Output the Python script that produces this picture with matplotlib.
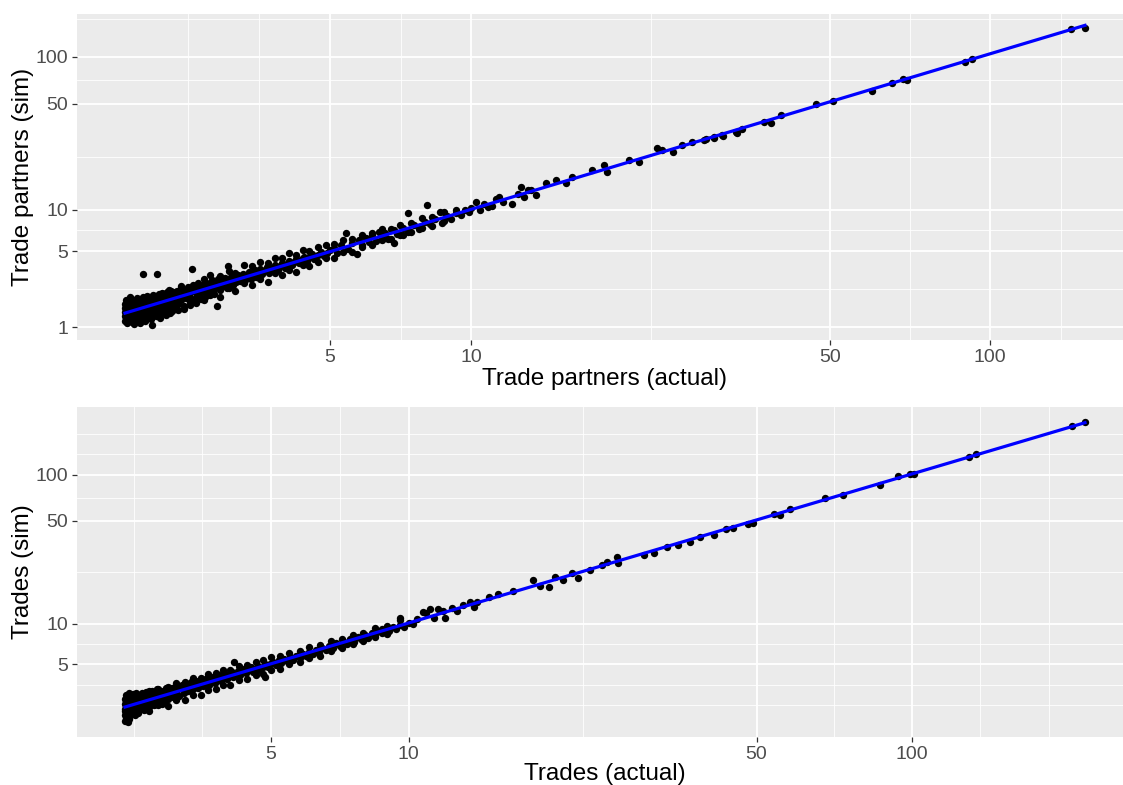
import numpy as np
import matplotlib
matplotlib.use("Agg")
import matplotlib.pyplot as plt

plt.rcParams['font.family'] = ['Liberation Sans', 'DejaVu Sans']

# (actual, simulated) number of trade partners per agent
partners_points = [
    (1.50, 1.20), (1.50, 1.35), (1.50, 1.50), (1.50, 1.65), (1.50, 1.80), (1.51, 1.28), (1.51, 1.95),
    (1.52, 1.12), (1.52, 1.42), (1.52, 1.58), (1.53, 1.72), (1.53, 1.25), (1.54, 1.88), (1.54, 1.48),
    (1.55, 1.33), (1.55, 1.62), (1.56, 2.00), (1.56, 1.18), (1.57, 1.52), (1.57, 1.78), (1.58, 1.40),
    (1.58, 1.66), (1.59, 1.25), (1.59, 1.92), (1.60, 1.55), (1.60, 1.10), (1.61, 1.70), (1.61, 1.38),
    (1.62, 1.85), (1.62, 1.48), (1.63, 1.20), (1.63, 2.05), (1.64, 1.62), (1.64, 1.32), (1.65, 1.76),
    (1.65, 1.50), (1.66, 1.95), (1.66, 1.12), (1.67, 1.42), (1.67, 1.68), (1.68, 1.88), (1.68, 1.28),
    (1.69, 1.58), (1.70, 1.80), (1.70, 1.36), (1.70, 2.10), (1.71, 1.52), (1.72, 1.70), (1.72, 1.18),
    (1.73, 1.95), (1.74, 1.45), (1.75, 1.62), (1.75, 2.15), (1.75, 1.30),
    (1.76, 1.85), (1.77, 1.55), (1.78, 1.40), (1.78, 2.02), (1.79, 1.72), (1.80, 1.25), (1.80, 1.90),
    (1.81, 1.60), (1.82, 2.18), (1.83, 1.48), (1.84, 1.80), (1.85, 1.35), (1.85, 2.05), (1.86, 1.68),
    (1.87, 1.95), (1.88, 1.55), (1.89, 2.25), (1.90, 1.75), (1.90, 1.42), (1.91, 2.00), (1.92, 1.62),
    (1.93, 2.30), (1.94, 1.85), (1.95, 1.50), (1.96, 2.10), (1.97, 1.72), (1.98, 1.95), (1.99, 2.35),
    (2.00, 1.60), (2.00, 1.85), (2.02, 2.15), (2.03, 1.45), (2.04, 2.40), (2.05, 1.78), (2.06, 2.02),
    (2.08, 1.65), (2.09, 2.25), (2.10, 1.90),
    (1.52, 1.90), (1.55, 2.08), (1.58, 1.15), (1.62, 1.98), (1.66, 1.82), (1.70, 1.25), (1.74, 2.05),
    (1.78, 1.30), (1.82, 1.55), (1.86, 2.15), (1.90, 1.30), (1.94, 2.20), (1.98, 1.40), (2.02, 2.45),
    (2.06, 1.52), (2.10, 2.35), (2.14, 1.55), (2.18, 2.65), (2.22, 1.60), (2.26, 2.35), (2.30, 1.75),
    (2.34, 2.50), (2.38, 1.85), (2.42, 2.55), (2.46, 2.00), (2.50, 2.75), (2.55, 2.20), (2.60, 2.80),
    (2.65, 2.35),
    (1.70, 3.31), (1.87, 3.30), (2.33, 3.63), (2.88, 3.84), (2.70, 1.71), (1.81, 1.06),
    (2.12, 2.40), (2.14, 1.80), (2.15, 2.10), (2.17, 2.55), (2.18, 1.95), (2.20, 2.25), (2.22, 1.70),
    (2.24, 2.45), (2.25, 2.05), (2.27, 2.60), (2.29, 2.15), (2.30, 1.90), (2.32, 2.35), (2.34, 2.70),
    (2.36, 2.00), (2.38, 2.50), (2.40, 2.20), (2.42, 2.80), (2.44, 2.30), (2.46, 2.05), (2.48, 2.60),
    (2.50, 2.40), (2.52, 2.85), (2.54, 2.15), (2.56, 2.55), (2.58, 2.70), (2.60, 2.35), (2.62, 2.95),
    (2.64, 2.50), (2.66, 2.25), (2.68, 2.75), (2.70, 2.60), (2.72, 3.00), (2.75, 2.45), (2.78, 2.85),
    (2.80, 2.65), (2.83, 3.10), (2.86, 2.55), (2.88, 2.90), (2.90, 2.75), (2.93, 3.15), (2.96, 2.70),
    (2.98, 3.00),
    (2.50, 1.98), (2.50, 3.03), (2.60, 2.17), (2.60, 3.25), (2.75, 2.11), (2.75, 3.20), (2.90, 2.51),
    (2.90, 3.52), (3.00, 2.36), (3.00, 3.40), (3.15, 2.82), (3.15, 3.90), (3.30, 2.70), (3.30, 3.82),
    (3.45, 3.00), (3.45, 4.16), (3.60, 2.86), (3.60, 4.06), (3.75, 3.37), (3.75, 4.46), (3.90, 3.26),
    (3.90, 4.49), (4.05, 3.60), (4.05, 4.86), (4.20, 3.47), (4.20, 4.72), (4.35, 3.92), (4.35, 5.10),
    (4.50, 3.84), (4.50, 5.05), (4.70, 4.13), (4.70, 5.44), (4.90, 4.43), (4.90, 5.61), (5.10, 4.49),
    (5.10, 5.71), (5.35, 4.91), (5.35, 6.11), (5.60, 4.94), (5.60, 6.19), (5.90, 5.42), (5.90, 6.59),
    (6.20, 5.55), (6.20, 6.78), (6.50, 6.05), (6.50, 7.25), (6.80, 6.18), (6.80, 7.35), (7.10, 6.61),
    (7.10, 7.83), (7.50, 6.91), (7.50, 8.10), (7.90, 7.46), (7.90, 8.70), (8.30, 7.65), (8.30, 8.86),
    (8.80, 8.31), (8.80, 9.58),
    (3.02, 2.85), (3.05, 3.25), (3.08, 2.90), (3.10, 3.10), (3.14, 3.35), (3.17, 2.95), (3.20, 3.20),
    (3.24, 3.45), (3.28, 3.05), (3.31, 3.30), (3.35, 3.55), (3.38, 3.15), (3.42, 3.40), (3.46, 3.65),
    (3.50, 3.30), (3.54, 3.55), (3.58, 3.80), (3.62, 3.40), (3.66, 3.70), (3.70, 3.55), (3.75, 3.90),
    (3.80, 3.60), (3.85, 3.85), (3.90, 4.05), (3.95, 3.75), (4.00, 4.00), (4.05, 4.20), (4.10, 3.90),
    (4.15, 4.15), (4.20, 4.40), (4.26, 4.05), (4.32, 4.35), (4.38, 4.55), (4.44, 4.25), (4.50, 4.50),
    (4.56, 4.75), (4.62, 4.40), (4.70, 4.70), (4.78, 4.95), (4.85, 4.60), (4.92, 4.90), (5.00, 5.10),
    (5.1, 5.3), (5.2, 4.9), (5.3, 5.6), (5.44, 6.8), (5.5, 5.2), (5.6, 5.8), (5.73, 4.75), (5.8, 6.1),
    (5.9, 5.6), (6.0, 6.3), (6.1, 5.9), (6.2, 6.6), (6.3, 6.0), (6.4, 6.9), (6.5, 6.3), (6.6, 6.8),
    (6.7, 6.2), (6.9, 5.75), (6.9, 7.2), (7.0, 6.7), (7.2, 7.4), (7.2, 6.6), (7.4, 9.4), (7.4, 7.0),
    (7.6, 7.8), (7.8, 7.3), (8.0, 8.2), (8.1, 10.7), (8.2, 7.9), (8.4, 8.6), (8.6, 9.6), (8.7, 8.1),
    (8.9, 9.0), (9.1, 8.6), (9.3, 9.9), (9.3, 9.5), (9.5, 9.1), (9.7, 9.9), (9.9, 9.6), (10.0, 10.3),
    (10.2, 11.2), (10.4, 10.0), (10.6, 11.0), (10.8, 10.4), (11.0, 10.6), (11.2, 11.8), (11.4, 12.2),
    (11.6, 11.2), (12.1, 10.9), (12.4, 12.8), (12.6, 14.2), (12.8, 12.2), (13.0, 13.6), (13.2, 13.6),
    (13.5, 12.5), (14.1, 15.1), (14.8, 15.8), (15.5, 15.1), (15.9, 16.6), (17.4, 18.4), (18.4, 19.9),
    (18.6, 17.9), (20.6, 21.4), (21.5, 20.8), (23.3, 25.7), (23.9, 24.9), (25.0, 24.2), (26.1, 26.9),
    (27.3, 28.2), (28.7, 29.0), (29.0, 29.4), (30.0, 30.3), (30.0, 29.9), (31.1, 31.3), (31.2, 30.8),
    (33.1, 32.6), (33.3, 32.2), (34.0, 34.2), (37.5, 37.9), (38.6, 37.4), (40.3, 42.1), (47.0, 49.5),
    (50.6, 51.8), (60.0, 60.0), (65.4, 67.4), (68.6, 71.6), (69.8, 70.5), (89.8, 91.9), (92.5, 96.0),
    (142.0, 148.6), (150.7, 151.0),
]

# (actual, simulated) number of trades per agent
trades_points = [
    (2.15, 1.60), (2.15, 1.85), (2.15, 2.10), (2.15, 2.35), (2.15, 2.60), (2.16, 2.80), (2.16, 1.72),
    (2.17, 2.22), (2.17, 2.48), (2.18, 1.95), (2.18, 2.70), (2.19, 1.55), (2.19, 2.05), (2.20, 2.38),
    (2.20, 2.90), (2.21, 1.80), (2.22, 2.55), (2.22, 2.15), (2.23, 2.75), (2.24, 1.92), (2.25, 2.30),
    (2.25, 2.62), (2.26, 2.02), (2.27, 2.85), (2.28, 2.45), (2.29, 1.85), (2.30, 2.20), (2.30, 2.70),
    (2.31, 2.95), (2.32, 2.10), (2.33, 2.52), (2.34, 1.98), (2.35, 2.80), (2.36, 2.35), (2.37, 2.62),
    (2.38, 2.15), (2.39, 2.92), (2.40, 2.45),
    (2.15, 2.00), (2.16, 2.45), (2.18, 2.25), (2.20, 1.65), (2.21, 2.65), (2.23, 2.00), (2.26, 2.50),
    (2.28, 2.12), (2.31, 2.40), (2.33, 1.90), (2.36, 2.70), (2.39, 2.25), (2.44, 2.50), (2.49, 2.90),
    (2.54, 2.35), (2.59, 2.75), (2.64, 2.95), (2.70, 2.35), (2.76, 2.70), (2.82, 2.95), (2.88, 3.05),
    (2.94, 2.60),
    (2.42, 2.05), (2.43, 2.75), (2.45, 2.30), (2.46, 3.00), (2.48, 2.55), (2.50, 2.20), (2.51, 2.85),
    (2.53, 2.45), (2.55, 3.05), (2.56, 2.65), (2.58, 2.30), (2.60, 2.90), (2.62, 2.55), (2.63, 3.15),
    (2.65, 2.40), (2.67, 2.75), (2.69, 3.05), (2.71, 2.60), (2.73, 2.95), (2.75, 2.45), (2.77, 3.20),
    (2.79, 2.80), (2.81, 2.60), (2.83, 3.10), (2.85, 2.90), (2.87, 3.25), (2.89, 2.70), (2.91, 3.00),
    (2.93, 3.30), (2.95, 2.85), (2.97, 3.10), (2.99, 2.75),
    (2.50, 2.01), (2.50, 3.06), (2.65, 2.29), (2.65, 3.16), (2.80, 2.23), (2.80, 3.26), (2.95, 2.56),
    (2.95, 3.58), (3.10, 2.53), (3.10, 3.59), (3.25, 2.83), (3.25, 3.89), (3.40, 2.83), (3.40, 3.93),
    (3.55, 3.10), (3.55, 4.19), (3.70, 3.14), (3.70, 4.26), (3.85, 3.41), (3.85, 4.53), (4.00, 3.40),
    (4.00, 4.55), (4.20, 3.73), (4.20, 4.88), (4.40, 3.81), (4.40, 4.94), (4.60, 4.15), (4.60, 5.27),
    (4.80, 4.22), (4.80, 5.38), (5.00, 4.52), (5.00, 5.66), (5.25, 4.63), (5.25, 5.81), (5.50, 5.05),
    (5.50, 6.15), (5.80, 5.19), (5.80, 6.34), (6.10, 5.60), (6.10, 6.74), (6.45, 5.85), (6.45, 6.97),
    (6.80, 6.33), (6.80, 7.50), (7.20, 6.63), (7.20, 7.77), (7.60, 7.17), (7.60, 8.29), (8.00, 7.46),
    (8.00, 8.54), (8.50, 8.03), (8.50, 9.26), (9.00, 8.40), (9.00, 9.60),
    (3.02, 3.20), (3.05, 3.40), (3.08, 2.90), (3.10, 3.15), (3.13, 3.50), (3.16, 3.05), (3.19, 3.30),
    (3.22, 3.60), (3.25, 3.15), (3.28, 3.40), (3.31, 3.70), (3.34, 3.25), (3.38, 3.55), (3.42, 3.80),
    (3.45, 3.35), (3.49, 3.60), (3.53, 3.90), (3.56, 3.45), (3.60, 3.70), (3.64, 4.00), (3.68, 3.55),
    (3.72, 3.80), (3.76, 4.10), (3.80, 3.70), (3.85, 3.95), (3.90, 4.20), (3.94, 3.80), (3.99, 4.05),
    (4.04, 4.35), (4.08, 3.95), (4.10, 5.25), (4.13, 4.20), (4.18, 4.45), (4.23, 4.10), (4.28, 4.35),
    (4.33, 4.60), (4.38, 4.25), (4.43, 4.50), (4.49, 4.75), (4.54, 4.40), (4.60, 4.65), (4.66, 4.90),
    (4.72, 4.55), (4.78, 4.80), (4.83, 4.00), (4.85, 5.05), (4.91, 4.75), (4.97, 5.00),
    (5.05, 5.25), (5.12, 4.95), (5.20, 5.40), (5.28, 5.15), (5.36, 5.55), (5.44, 5.30), (5.52, 5.75),
    (5.60, 5.45), (5.70, 5.85), (5.80, 5.60), (5.90, 6.05), (6.00, 5.80), (6.10, 6.25), (6.20, 6.00),
    (6.30, 6.45), (6.40, 6.15), (6.52, 6.70), (6.64, 6.40), (6.76, 6.95), (6.88, 6.65), (7.00, 7.20),
    (7.12, 6.90), (7.25, 7.45), (7.38, 7.10), (7.50, 7.75), (7.64, 7.40), (7.78, 8.05), (7.92, 7.70),
    (8.06, 8.30), (8.20, 7.95), (8.35, 8.60), (8.50, 8.25), (8.65, 8.90), (8.80, 8.55), (8.95, 9.20),
    (9.10, 8.80), (9.25, 9.50), (9.40, 9.15), (9.60, 11.0), (9.60, 9.80), (9.80, 9.50), (10.0, 10.2),
    (10.2, 9.90), (10.4, 10.8), (10.9, 11.9), (11.3, 11.0), (11.8, 12.3), (12.6, 12.2), (13.0, 13.5),
    (13.7, 13.2),
    (8.8, 9.1), (9.6, 10.7), (10.7, 12.1), (11.1, 12.6), (11.5, 12.7), (11.9, 10.9), (12.3, 13.0),
    (13.4, 14.3), (13.9, 14.3), (14.7, 15.4), (15.3, 16.2), (16.4, 17.0), (18.0, 20.1), (18.6, 18.4),
    (19.4, 18.0), (20.0, 21.1), (20.7, 20.1), (21.6, 22.4), (22.2, 20.8), (23.5, 23.5), (24.8, 25.4),
    (25.4, 26.7), (26.6, 28.8), (26.7, 26.2), (30.0, 29.7), (31.4, 30.6), (33.4, 33.5), (35.0, 34.6),
    (37.1, 36.2), (38.8, 39.1), (41.2, 40.3), (43.5, 44.1), (44.9, 44.8), (48.2, 47.6), (49.3, 48.3),
    (54.0, 55.4), (55.6, 54.6), (58.2, 59.7), (68.0, 70.4), (73.5, 73.8), (87.0, 85.8), (94.3, 98.1),
    (99.4, 101.0), (101.0, 101.0), (129.0, 130.5), (133.0, 136.5), (204.0, 207.0), (216.0, 220.0),
]

partners_ticks = [1, 5, 10, 50, 100]
partners_xticks = [5, 10, 50, 100]
trades_ticks = [5, 10, 50, 100]

PANEL_BG = '#EBEBEB'


def fwd(v):
    return np.log10(1 + np.asarray(v, dtype=float))


def inv(t):
    return 10 ** np.asarray(t, dtype=float) - 1


def expanded_limits(values):
    # 5% padding on each side, measured in log1p space
    t = fwd(values)
    lo, hi = t.min(), t.max()
    pad = 0.05 * (hi - lo)
    return float(inv(lo - pad)), float(inv(hi + pad))


def minor_breaks(major, limits):
    b = list(fwd(major))
    lo, hi = fwd(limits)
    step = b[1] - b[0]
    if lo < b[0]:
        b = [b[0] - step] + b
    if hi > b[-1]:
        b = b + [b[-1] + step]
    out = []
    for a, c in zip(b[:-1], b[1:]):
        out += [a, (a + c) / 2]
    out.append(b[-1])
    majt = fwd(major)
    out = [m for m in out if lo <= m <= hi and not np.any(np.isclose(m, majt))]
    return inv(out)


def draw_panel(ax, points, xlabel, ylabel, xticks, yticks, xlab_y):
    x = np.array([p[0] for p in points])
    y = np.array([p[1] for p in points])
    ax.set_xscale('function', functions=(fwd, inv))
    ax.set_yscale('function', functions=(fwd, inv))
    xlim = expanded_limits(x)
    ylim = expanded_limits(y)
    ax.set_facecolor(PANEL_BG)

    ax.set_xticks(xticks)
    ax.set_xticklabels([str(v) for v in xticks])
    ax.set_yticks(yticks)
    ax.set_yticklabels([str(v) for v in yticks])
    ax.set_xticks(minor_breaks(xticks, xlim), minor=True)
    ax.set_yticks(minor_breaks(yticks, ylim), minor=True)
    ax.grid(which='major', color='white', lw=1.3)
    ax.grid(which='minor', color='white', lw=0.6)
    ax.set_axisbelow(True)

    ax.plot(x, y, 'o', color='black', ms=5.3, mec='none', zorder=3)
    # linear fit in log1p space
    tx = fwd(x)
    coef = np.polyfit(tx, fwd(y), 1)
    ends = np.array([tx.min(), tx.max()])
    ax.plot(inv(ends), inv(np.polyval(coef, ends)), color='#0000FF', lw=2.3, zorder=4)

    ax.set_xlim(xlim)
    ax.set_ylim(ylim)
    for s in ax.spines.values():
        s.set_visible(False)
    ax.tick_params(which='major', length=3.5, width=0.9, color='#333333',
                   labelcolor='#4D4D4D', labelsize=14, pad=3)
    ax.tick_params(which='minor', length=0)

    ax.set_xlabel(xlabel, fontsize=17.5, color='black')
    ax.set_ylabel(ylabel, fontsize=17.5, color='black')
    ax.xaxis.set_label_coords(0.5, xlab_y)
    ax.yaxis.set_label_coords(-0.041, 0.5)


fig = plt.figure(figsize=(11.23, 7.85), dpi=100)
ax_top = fig.add_axes([77 / 1123, 1 - 340 / 785, 1056 / 1123, 326.5 / 785])
ax_bot = fig.add_axes([77 / 1123, 1 - 737 / 785, 1056 / 1123, 330 / 785])

draw_panel(ax_top, partners_points, 'Trade partners (actual)', 'Trade partners (sim)',
           partners_xticks, partners_ticks, -0.086)
draw_panel(ax_bot, trades_points, 'Trades (actual)', 'Trades (sim)',
           trades_ticks, trades_ticks, -0.079)

fig.savefig('out.png', dpi=100)
